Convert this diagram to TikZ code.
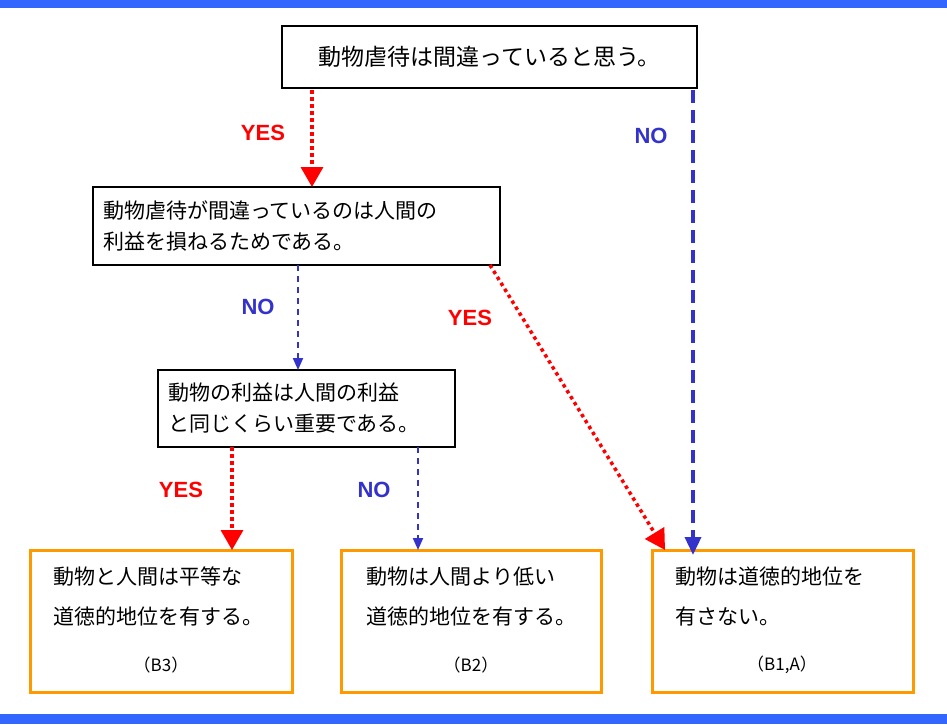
\documentclass[tikz,border=0pt]{standalone}
\usepackage{fontspec}
\setmainfont{Liberation Sans}
\newfontfamily\cjk{Noto Sans CJK JP}
\usetikzlibrary{arrows.meta}
\definecolor{bar}{RGB}{51,102,255}
\definecolor{nob}{RGB}{51,51,204}
\definecolor{yesr}{RGB}{255,0,0}
\definecolor{org}{RGB}{255,153,0}
\begin{document}
\begin{tikzpicture}[x=1pt,y=-1pt,
  q/.style={draw=black,line width=1.2pt,fill=white,font=\cjk\fontsize{21}{31}\selectfont,align=left,inner sep=0pt},
  r/.style={draw=org,line width=3pt,fill=white,inner sep=0pt},
  rt/.style={font=\cjk\fontsize{21}{40}\selectfont,align=left,anchor=north west},
  lab/.style={font=\cjk\fontsize{17}{18}\selectfont},
  yes/.style={text=yesr,font=\bfseries\fontsize{22}{22}\selectfont},
  no/.style={text=nob,font=\bfseries\fontsize{22}{22}\selectfont},
  ya/.style={draw=yesr,line width=3.5pt,dash pattern=on 3.5pt off 3.5pt,-{Triangle[length=20pt,width=22pt]}},
  na/.style={draw=nob,line width=2pt,dash pattern=on 6pt off 5pt,-{Triangle[length=12pt,width=10pt]}},
  nab/.style={draw=nob,line width=3.5pt,dash pattern=on 13pt off 7pt,-{Triangle[length=18pt,width=16pt]}}]
\useasboundingbox (0,0) rectangle (947,724);
\fill[white] (0,0) rectangle (947,724);
\fill[bar] (0,0) rectangle (947,8);
\fill[bar] (0,714) rectangle (947,724);
\node[q,minimum width=415pt,minimum height=62pt,align=center,font=\cjk\fontsize{23}{30}\selectfont] (b1) at (489.5,57) {動物虐待は間違っていると思う。};
\node[q,minimum width=407pt,minimum height=78pt,inner xsep=10pt,text width=387pt] (b2) at (296.5,226) {動物虐待が間違っているのは人間の\\利益を損ねるためである。};
\node[q,minimum width=297pt,minimum height=77pt,inner xsep=10pt,text width=277pt] (b3) at (306.5,408.5) {動物の利益は人間の利益\\と同じくらい重要である。};
\node[r,minimum width=262pt,minimum height=142pt] (r3) at (161,621) {};
\node[r,minimum width=260pt,minimum height=142pt] (r2) at (471,621) {};
\node[r,minimum width=261pt,minimum height=142pt] (r1) at (782.5,621) {};
\node[rt] (t3) at (50,563) {動物と人間は平等な\\道徳的地位を有する。};
\node[rt] (t2) at (363,563) {動物は人間より低い\\道徳的地位を有する。};
\node[rt] (t1) at (672,563) {動物は道徳的地位を\\有さない。};
\node[lab] (l3) at (161,665) {（B3）};
\node[lab] (l2) at (471,665) {（B2）};
\node[lab] (l1) at (782,665) {（B1,A）};
\coordinate (s1) at (312,90); \coordinate (e1) at (312,187);
\coordinate (s2) at (693,90); \coordinate (e2) at (693,555);
\coordinate (s3) at (298,265); \coordinate (e3) at (298,370);
\coordinate (s4) at (490,265); \coordinate (e4) at (665,550);
\coordinate (s5) at (232,447); \coordinate (e5) at (232,550);
\coordinate (s6) at (418,447); \coordinate (e6) at (418,550);
\draw[ya] (s1) -- (e1);
\draw[nab] (s2) -- (e2);
\draw[na] (s3) -- (e3);
\draw[ya] (s4) -- (e4);
\draw[ya] (s5) -- (e5);
\draw[na] (s6) -- (e6);
\node[yes] (y1) at (263,133) {YES};
\node[no] (n1) at (651,136) {NO};
\node[no] (n2) at (258,307) {NO};
\node[yes] (y2) at (470,318) {YES};
\node[yes] (y3) at (181,490) {YES};
\node[no] (n3) at (374,490) {NO};
\end{tikzpicture}
\end{document}
